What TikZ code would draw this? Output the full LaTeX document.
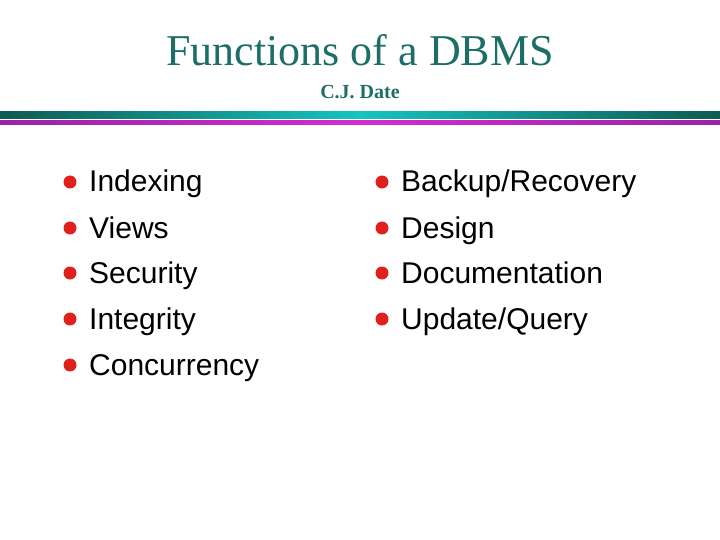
\documentclass[tikz,border=0pt]{standalone}
\usepackage{fontspec}
\setmainfont{Liberation Serif}
\newfontfamily\arialf{Liberation Sans}
\definecolor{tealT}{HTML}{1C6E66}
\definecolor{tealD}{HTML}{0E5A55}
\definecolor{tealB}{HTML}{16C4C0}
\definecolor{magD}{HTML}{9A22A6}
\definecolor{magB}{HTML}{D22CD8}
\definecolor{bulred}{HTML}{E0201A}
\begin{document}
\begin{tikzpicture}[x=1pt,y=-1pt,
  item/.style={anchor=base west,inner sep=0pt,font=\arialf\fontsize{30}{32}\selectfont},
  dot/.style={circle,fill=bulred,inner sep=0pt,minimum size=13pt}]
\useasboundingbox (0,0) rectangle (720,540);
\node (title) at (360,50) {\fontsize{44}{48}\selectfont\color{tealT}Functions of a DBMS};
\node (sub) at (360,92) {\fontsize{20}{24}\selectfont\bfseries\color{tealT}C.J. Date};
\shade[left color=tealD,right color=tealD,middle color=tealB] (0,112) rectangle (720,118.5);
\shade[left color=magD,right color=magD,middle color=magB] (0,121) rectangle (720,125);
\foreach \t/\y/\n in {Indexing/181/a,Views/227/b,Security/272/c,Integrity/318/d,Concurrency/364/e}{
  \node[dot] (d\n) at (70,\y+1) {};
  \node[item] (l\n) at (89,\y+11) {\t};
}
\foreach \t/\y/\n in {{Backup/Recovery}/181/a,Design/227/b,Documentation/272/c,{Update/Query}/318/d}{
  \node[dot] (r\n) at (382,\y+1) {};
  \node[item] (m\n) at (401,\y+11) {\t};
}
\end{tikzpicture}
\end{document}
